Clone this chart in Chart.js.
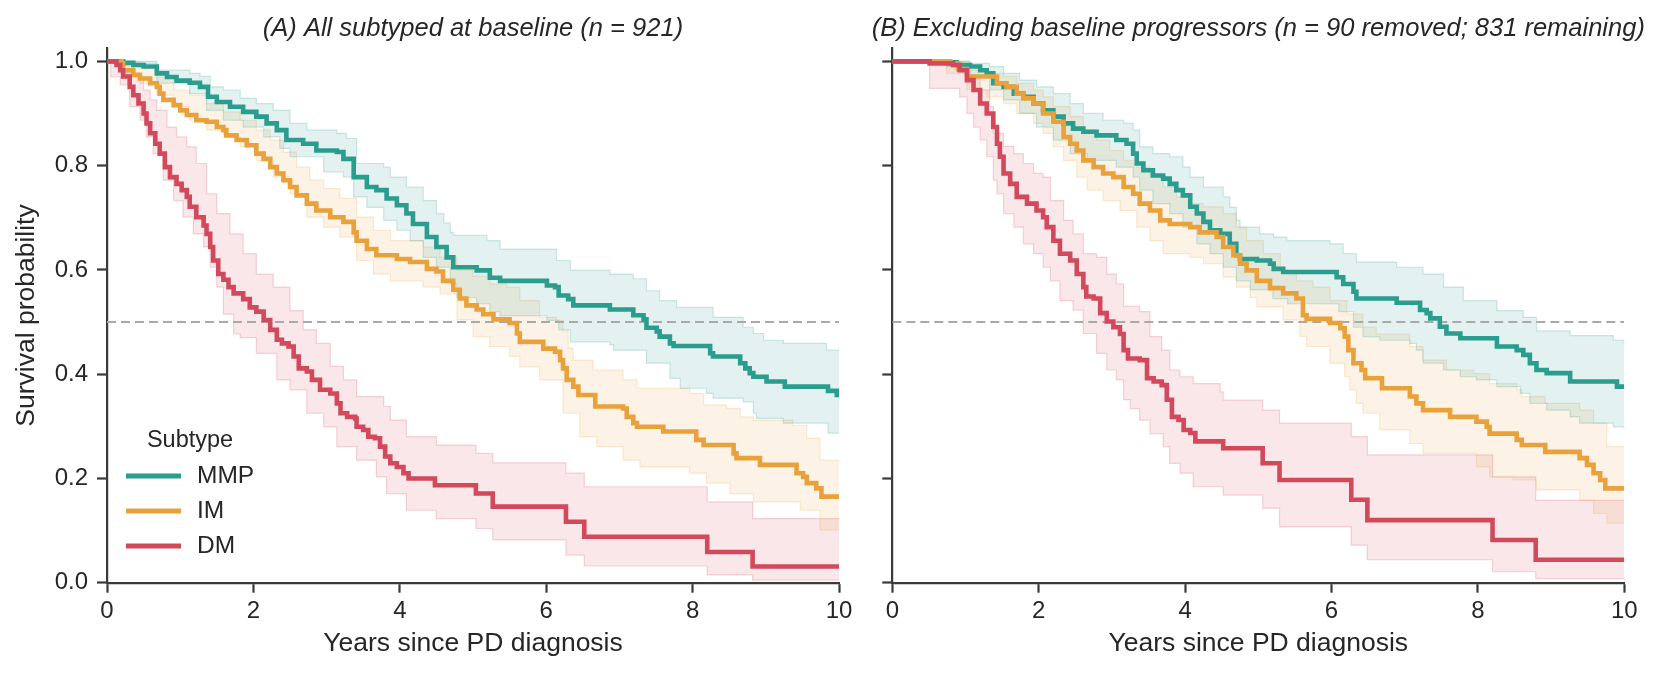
<!DOCTYPE html>
<html>
<head>
<meta charset="utf-8">
<script src="https://cdn.jsdelivr.net/npm/chart.js@4.4.1/dist/chart.umd.min.js"></script>
<style>
  html, body { margin: 0; padding: 0; background: #fff; overflow: hidden; }
  #wrap { position: relative; width: 1661px; height: 675px; }
  canvas { position: absolute; top: 0; }
  #chartA { left: 0; }
  #chartB { left: 850px; }
</style>
</head>
<body>
<div id="wrap">
  <canvas id="chartA" width="860" height="675"></canvas>
  <canvas id="chartB" width="811" height="675"></canvas>
</div>
<script>
// ---- data (years since diagnosis, survival probability) ----
var subtypes = ["MMP", "IM", "DM"];
var colors = { MMP: "42,157,143", IM: "233,162,59", DM: "209,73,91" };
var xTicks = [0, 2, 4, 6, 8, 10];
var yTicks = [0, 0.2, 0.4, 0.6, 0.8, 1.0];
var refY = 0.5;
var titleA = "(A) All subtyped at baseline (n = 921)";
var titleB = "(B) Excluding baseline progressors (n = 90 removed; 831 remaining)";

// panel A
var A_MMP = [[0,1],[0.22,0.997],[0.36,0.993],[0.5,0.99],[0.68,0.977],[0.82,0.97],[0.95,0.963],[1.13,0.959],[1.27,0.951],[1.38,0.932],[1.5,0.922],[1.68,0.913],[1.86,0.903],[2.04,0.894],[2.18,0.881],[2.32,0.868],[2.45,0.849],[2.68,0.842],[2.86,0.829],[3.14,0.826],[3.23,0.813],[3.37,0.778],[3.55,0.759],[3.68,0.753],[3.82,0.737],[3.96,0.724],[4.09,0.708],[4.18,0.688],[4.37,0.663],[4.5,0.644],[4.64,0.624],[4.73,0.605],[5.05,0.599],[5.23,0.585],[5.37,0.579],[6.01,0.570],[6.12,0.567],[6.17,0.551],[6.3,0.544],[6.37,0.532],[6.87,0.524],[7.19,0.513],[7.33,0.505],[7.37,0.489],[7.51,0.482],[7.55,0.472],[7.69,0.459],[7.74,0.454],[8.24,0.440],[8.28,0.434],[8.65,0.421],[8.72,0.411],[8.78,0.402],[8.83,0.395],[9.01,0.386],[9.26,0.376],[9.85,0.368],[9.97,0.36],[10,0.36]];
var A_MMP_HI = [[0,1],[0.22,1.0],[0.68,0.983],[1.13,0.977],[1.27,0.971],[1.41,0.951],[1.59,0.945],[1.82,0.929],[2.04,0.919],[2.27,0.906],[2.5,0.881],[2.73,0.868],[3.14,0.862],[3.27,0.852],[3.41,0.804],[3.78,0.797],[3.87,0.778],[4.09,0.759],[4.32,0.733],[4.5,0.708],[4.6,0.69],[4.69,0.672],[4.73,0.666],[5.19,0.656],[5.37,0.640],[6.14,0.618],[6.33,0.599],[6.87,0.592],[7.19,0.583],[7.37,0.56],[7.55,0.541],[7.78,0.528],[8.28,0.509],[8.69,0.49],[8.83,0.478],[8.97,0.465],[9.24,0.459],[9.83,0.446],[10,0.443]];
var A_MMP_LO = [[0,1],[0.22,0.996],[0.68,0.958],[1.13,0.938],[1.36,0.906],[1.59,0.887],[1.86,0.874],[2.14,0.855],[2.36,0.833],[2.5,0.817],[2.96,0.788],[3.23,0.778],[3.37,0.74],[3.55,0.72],[3.78,0.695],[3.96,0.676],[4.14,0.656],[4.32,0.624],[4.5,0.605],[4.69,0.573],[4.78,0.547],[5.05,0.535],[5.23,0.52],[5.37,0.512],[6.01,0.503],[6.17,0.485],[6.33,0.462],[6.87,0.456],[6.92,0.446],[7.37,0.421],[7.69,0.392],[7.83,0.373],[8.19,0.363],[8.28,0.354],[8.69,0.347],[8.83,0.325],[8.87,0.315],[9.24,0.306],[9.85,0.287],[10,0.287]];

var A_IM = [[0,1],[0.2,0.996],[0.22,0.983],[0.36,0.974],[0.45,0.967],[0.59,0.958],[0.68,0.951],[0.72,0.938],[0.77,0.926],[0.91,0.916],[1.0,0.906],[1.09,0.897],[1.22,0.887],[1.36,0.884],[1.5,0.874],[1.59,0.868],[1.63,0.858],[1.77,0.849],[1.91,0.839],[2.04,0.823],[2.14,0.813],[2.23,0.797],[2.32,0.785],[2.41,0.772],[2.5,0.759],[2.59,0.743],[2.73,0.727],[2.86,0.714],[3.05,0.701],[3.23,0.692],[3.37,0.672],[3.41,0.656],[3.55,0.640],[3.68,0.628],[3.96,0.621],[4.14,0.615],[4.37,0.602],[4.5,0.597],[4.59,0.579],[4.73,0.562],[4.82,0.545],[4.91,0.532],[5.05,0.524],[5.14,0.515],[5.28,0.505],[5.5,0.498],[5.6,0.478],[5.64,0.462],[5.96,0.449],[6.12,0.443],[6.19,0.427],[6.23,0.411],[6.28,0.389],[6.37,0.376],[6.44,0.360],[6.67,0.338],[7.05,0.334],[7.10,0.318],[7.19,0.306],[7.24,0.299],[7.60,0.290],[8.05,0.274],[8.15,0.264],[8.56,0.248],[8.60,0.239],[8.92,0.226],[9.42,0.210],[9.51,0.203],[9.56,0.191],[9.69,0.181],[9.76,0.165],[10,0.165]];
var A_IM_HI = [[0,1],[0.22,0.999],[0.45,0.99],[0.68,0.97],[0.91,0.945],[1.13,0.935],[1.36,0.919],[1.59,0.903],[1.82,0.887],[2.04,0.868],[2.23,0.849],[2.41,0.826],[2.59,0.797],[2.77,0.772],[2.96,0.756],[3.18,0.737],[3.41,0.701],[3.64,0.676],[3.87,0.656],[4.32,0.644],[4.55,0.624],[4.78,0.599],[5.0,0.588],[5.23,0.573],[5.46,0.567],[5.64,0.541],[5.91,0.509],[6.14,0.503],[6.23,0.483],[6.3,0.45],[6.37,0.427],[6.64,0.408],[7.05,0.389],[7.24,0.373],[7.96,0.363],[8.15,0.341],[8.46,0.334],[8.65,0.318],[8.83,0.312],[9.37,0.302],[9.56,0.277],[9.74,0.235],[10,0.235]];
var A_IM_LO = [[0,1],[0.22,0.977],[0.45,0.958],[0.68,0.935],[0.91,0.913],[1.13,0.887],[1.36,0.868],[1.59,0.855],[1.82,0.836],[2.04,0.81],[2.27,0.778],[2.5,0.746],[2.73,0.701],[2.96,0.682],[3.18,0.663],[3.41,0.618],[3.64,0.592],[3.87,0.579],[4.32,0.567],[4.55,0.554],[4.78,0.504],[5.0,0.472],[5.23,0.453],[5.5,0.434],[5.64,0.414],[5.91,0.389],[6.23,0.325],[6.46,0.280],[6.69,0.261],[7.05,0.235],[7.28,0.222],[7.96,0.210],[8.19,0.191],[8.51,0.171],[8.83,0.155],[9.47,0.139],[9.74,0.101],[10,0.101]];

var A_DM = [[0,1],[0.13,0.993],[0.18,0.983],[0.22,0.971],[0.31,0.951],[0.36,0.935],[0.43,0.919],[0.5,0.9],[0.54,0.881],[0.59,0.862],[0.66,0.842],[0.72,0.823],[0.79,0.797],[0.86,0.778],[0.95,0.765],[1.02,0.753],[1.09,0.740],[1.13,0.721],[1.22,0.701],[1.32,0.685],[1.36,0.669],[1.41,0.644],[1.45,0.618],[1.52,0.592],[1.59,0.581],[1.66,0.567],[1.73,0.555],[1.86,0.544],[1.95,0.528],[2.04,0.52],[2.14,0.504],[2.23,0.485],[2.32,0.466],[2.39,0.459],[2.48,0.453],[2.55,0.434],[2.62,0.411],[2.73,0.405],[2.80,0.389],[2.91,0.370],[3.05,0.363],[3.14,0.344],[3.19,0.325],[3.28,0.318],[3.39,0.315],[3.41,0.299],[3.50,0.293],[3.57,0.280],[3.66,0.277],[3.73,0.261],[3.80,0.242],[3.87,0.229],[3.96,0.222],[4.05,0.210],[4.12,0.200],[4.48,0.187],[5.04,0.171],[5.27,0.146],[6.27,0.117],[6.52,0.088],[8.2,0.059],[8.82,0.031],[10,0.031]];
var A_DM_HI = [[0,1],[0.18,0.996],[0.36,0.971],[0.5,0.945],[0.59,0.926],[0.68,0.906],[0.82,0.874],[0.95,0.855],[1.09,0.836],[1.22,0.804],[1.36,0.746],[1.5,0.708],[1.68,0.669],[1.86,0.631],[2.04,0.592],[2.27,0.567],[2.5,0.522],[2.68,0.485],[2.86,0.459],[3.05,0.415],[3.23,0.389],[3.41,0.357],[3.78,0.338],[3.87,0.312],[4.09,0.28],[4.5,0.264],[5.04,0.248],[5.27,0.23],[6.27,0.21],[6.52,0.184],[8.2,0.155],[8.82,0.123],[10,0.123]];
var A_DM_LO = [[0,1],[0.05,0.97],[0.18,0.955],[0.31,0.913],[0.45,0.887],[0.54,0.855],[0.63,0.823],[0.77,0.772],[0.91,0.733],[1.04,0.701],[1.18,0.669],[1.32,0.644],[1.41,0.605],[1.5,0.567],[1.59,0.515],[1.73,0.477],[1.82,0.47],[2.04,0.44],[2.32,0.389],[2.5,0.37],[2.73,0.325],[2.96,0.299],[3.14,0.261],[3.41,0.235],[3.68,0.203],[3.82,0.171],[4.09,0.139],[4.5,0.123],[5.04,0.104],[5.27,0.082],[6.27,0.053],[6.52,0.032],[8.2,0.015],[8.82,0.005],[10,0.005]];

// panel B
var B_MMP = [[0,1],[0.74,0.998],[0.88,0.993],[1.06,0.99],[1.2,0.983],[1.29,0.977],[1.38,0.958],[1.52,0.951],[1.66,0.938],[1.79,0.932],[1.93,0.919],[2.06,0.906],[2.2,0.894],[2.34,0.881],[2.47,0.871],[2.61,0.865],[2.79,0.858],[3.06,0.849],[3.2,0.842],[3.29,0.823],[3.34,0.804],[3.43,0.791],[3.56,0.781],[3.7,0.775],[3.79,0.765],[3.88,0.753],[3.97,0.743],[4.07,0.721],[4.16,0.708],[4.25,0.692],[4.34,0.676],[4.48,0.669],[4.61,0.65],[4.70,0.628],[4.75,0.621],[4.98,0.618],[5.16,0.612],[5.21,0.602],[5.34,0.596],[6.07,0.586],[6.16,0.573],[6.30,0.558],[6.34,0.545],[6.89,0.537],[7.21,0.523],[7.30,0.517],[7.35,0.507],[7.48,0.491],[7.57,0.478],[7.76,0.469],[8.26,0.453],[8.53,0.446],[8.62,0.437],[8.71,0.421],[8.80,0.408],[8.94,0.402],[9.26,0.386],[9.90,0.376],[10,0.376]];
var B_MMP_HI = [[0,1],[1.06,0.996],[1.33,0.99],[1.52,0.977],[1.74,0.964],[1.97,0.951],[2.2,0.938],[2.43,0.919],[2.61,0.9],[2.88,0.887],[3.16,0.881],[3.29,0.868],[3.38,0.836],[3.56,0.823],[3.79,0.817],[3.97,0.797],[4.07,0.778],[4.25,0.759],[4.52,0.74],[4.61,0.72],[4.70,0.695],[4.75,0.682],[5.02,0.669],[5.21,0.663],[5.39,0.656],[5.98,0.65],[6.16,0.631],[6.34,0.615],[6.89,0.605],[7.25,0.592],[7.53,0.567],[7.80,0.541],[8.26,0.522],[8.62,0.509],[8.80,0.483],[9.26,0.474],[9.85,0.465],[10,0.456]];
var B_MMP_LO = [[0,1],[0.74,0.99],[1.06,0.971],[1.33,0.945],[1.52,0.926],[1.74,0.9],[1.97,0.874],[2.2,0.849],[2.43,0.823],[2.66,0.81],[3.06,0.797],[3.29,0.778],[3.38,0.753],[3.56,0.727],[3.79,0.708],[3.97,0.682],[4.16,0.65],[4.34,0.631],[4.52,0.605],[4.70,0.579],[4.89,0.562],[5.2,0.545],[5.4,0.535],[6.1,0.52],[6.3,0.49],[6.43,0.472],[6.66,0.465],[7.07,0.459],[7.16,0.446],[7.25,0.421],[7.53,0.408],[7.76,0.395],[7.98,0.389],[8.26,0.376],[8.58,0.363],[8.71,0.344],[8.94,0.331],[9.26,0.318],[9.39,0.306],[9.85,0.299],[10,0.293]];

var B_IM = [[0,1],[0.79,0.996],[0.9,0.985],[1.02,0.971],[1.43,0.958],[1.56,0.951],[1.70,0.938],[1.79,0.929],[1.93,0.919],[2.06,0.9],[2.20,0.884],[2.34,0.855],[2.43,0.842],[2.52,0.829],[2.61,0.81],[2.75,0.797],[2.88,0.785],[3.02,0.778],[3.16,0.759],[3.29,0.746],[3.38,0.727],[3.52,0.714],[3.66,0.695],[3.79,0.688],[4.07,0.682],[4.20,0.672],[4.43,0.663],[4.52,0.644],[4.66,0.628],[4.75,0.612],[4.84,0.599],[4.98,0.579],[5.16,0.565],[5.34,0.555],[5.52,0.545],[5.61,0.513],[5.66,0.506],[5.98,0.498],[6.12,0.488],[6.18,0.472],[6.23,0.446],[6.30,0.421],[6.41,0.408],[6.46,0.392],[6.69,0.373],[7.07,0.357],[7.16,0.344],[7.25,0.331],[7.62,0.318],[7.98,0.309],[8.12,0.299],[8.16,0.286],[8.53,0.274],[8.60,0.264],[8.92,0.251],[9.39,0.239],[9.49,0.226],[9.58,0.21],[9.67,0.197],[9.74,0.181],[10,0.181]];
var B_IM_HI = [[0,1],[1.06,0.983],[1.29,0.977],[1.52,0.971],[1.70,0.958],[1.93,0.945],[2.06,0.932],[2.20,0.913],[2.43,0.894],[2.61,0.868],[2.79,0.849],[2.97,0.829],[3.16,0.81],[3.34,0.797],[3.52,0.778],[3.70,0.759],[3.88,0.74],[4.07,0.727],[4.25,0.721],[4.52,0.708],[4.70,0.682],[4.84,0.656],[5.07,0.631],[5.30,0.599],[5.52,0.579],[5.75,0.567],[5.98,0.541],[6.21,0.515],[6.43,0.49],[6.61,0.477],[7.07,0.453],[7.25,0.427],[7.57,0.408],[7.94,0.401],[8.16,0.382],[8.53,0.37],[8.60,0.357],[8.92,0.344],[9.39,0.331],[9.58,0.306],[9.76,0.261],[10,0.261]];
var B_IM_LO = [[0,1],[0.74,0.977],[1.02,0.945],[1.29,0.932],[1.52,0.919],[1.70,0.9],[1.93,0.881],[2.06,0.862],[2.20,0.836],[2.34,0.81],[2.52,0.778],[2.66,0.753],[2.88,0.733],[3.11,0.714],[3.34,0.682],[3.52,0.656],[3.70,0.631],[4.07,0.624],[4.25,0.612],[4.52,0.586],[4.70,0.567],[4.89,0.547],[4.98,0.529],[5.34,0.504],[5.57,0.472],[5.66,0.453],[5.98,0.421],[6.18,0.395],[6.25,0.37],[6.34,0.344],[6.43,0.325],[6.66,0.293],[7.07,0.267],[7.25,0.248],[7.98,0.222],[8.16,0.203],[8.48,0.197],[8.80,0.178],[9.39,0.158],[9.58,0.133],[9.76,0.114],[10,0.111]];

var B_DM = [[0,1],[0.51,0.996],[0.83,0.993],[0.92,0.983],[1.02,0.964],[1.11,0.945],[1.20,0.919],[1.29,0.9],[1.38,0.874],[1.43,0.842],[1.47,0.817],[1.52,0.785],[1.61,0.765],[1.70,0.74],[1.84,0.727],[1.97,0.714],[2.06,0.701],[2.11,0.682],[2.20,0.656],[2.29,0.631],[2.43,0.618],[2.52,0.592],[2.61,0.567],[2.65,0.549],[2.75,0.545],[2.84,0.517],[2.93,0.501],[3.02,0.49],[3.11,0.477],[3.16,0.446],[3.22,0.43],[3.38,0.427],[3.48,0.392],[3.57,0.386],[3.68,0.379],[3.75,0.351],[3.82,0.318],[3.91,0.312],[3.98,0.293],[4.07,0.287],[4.14,0.271],[4.52,0.258],[5.06,0.229],[5.29,0.197],[6.27,0.159],[6.49,0.12],[8.2,0.082],[8.79,0.044],[10,0.044]];
var B_DM_HI = [[0,1],[0.92,0.983],[1.06,0.971],[1.20,0.945],[1.33,0.913],[1.38,0.862],[1.52,0.837],[1.66,0.823],[1.79,0.804],[1.93,0.785],[2.06,0.778],[2.16,0.733],[2.34,0.695],[2.47,0.669],[2.61,0.631],[2.79,0.624],[2.93,0.592],[3.06,0.573],[3.16,0.53],[3.38,0.52],[3.52,0.472],[3.68,0.446],[3.79,0.408],[3.93,0.395],[4.11,0.382],[4.48,0.366],[4.52,0.35],[5.06,0.331],[5.29,0.306],[6.27,0.28],[6.49,0.245],[8.2,0.203],[8.79,0.158],[10,0.158]];
var B_DM_LO = [[0,1],[0.51,0.948],[0.92,0.932],[1.02,0.9],[1.11,0.874],[1.2,0.849],[1.29,0.817],[1.38,0.772],[1.43,0.746],[1.52,0.708],[1.66,0.682],[1.79,0.65],[1.93,0.631],[2.06,0.605],[2.16,0.579],[2.29,0.541],[2.47,0.523],[2.61,0.478],[2.79,0.44],[2.93,0.408],[3.06,0.389],[3.16,0.351],[3.25,0.334],[3.38,0.312],[3.52,0.286],[3.70,0.261],[3.79,0.229],[3.93,0.21],[4.11,0.184],[4.52,0.168],[5.06,0.143],[5.29,0.107],[6.27,0.072],[6.49,0.044],[8.2,0.021],[8.79,0.008],[10,0.008]];

var panelA = { title: titleA, MMP: [A_MMP, A_MMP_LO, A_MMP_HI], IM: [A_IM, A_IM_LO, A_IM_HI], DM: [A_DM, A_DM_LO, A_DM_HI] };
var panelB = { title: titleB, MMP: [B_MMP, B_MMP_LO, B_MMP_HI], IM: [B_IM, B_IM_LO, B_IM_HI], DM: [B_DM, B_DM_LO, B_DM_HI] };

// ---- drawing ----
var FONT = "'Liberation Sans', Arial, 'Helvetica Neue', sans-serif";
var TEXT = "#262626";
var AXIS = "#3a3a3a";

function pts(arr) {
    return arr.map(p => ({ x: p[0], y: p[1] }));
}

function buildDatasets(panel) {
    var sets = [];
    // lines first: lower index is drawn on top (DM top)
    ["DM", "IM", "MMP"].forEach(function (k, i) {
        sets.push({
            label: k,
            data: pts(panel[k][0]),
            borderColor: "rgb(" + colors[k] + ")",
            borderWidth: 4.6,
            stepped: true,
            fill: false,
            pointRadius: 0,
            order: i
        });
    });
    sets.push({
        label: "ref",
        data: [{ x: xTicks[0], y: refY }, { x: xTicks[xTicks.length - 1], y: refY }],
        borderColor: "#a9a9a9",
        borderWidth: 1.8,
        borderDash: [9, 5],
        pointRadius: 0,
        fill: false,
        order: 3
    });
    ["MMP", "IM", "DM"].forEach(function (k) {
        var loIndex = sets.length;
        sets.push({
            label: k + " lo",
            data: pts(panel[k][1]),
            borderColor: "rgba(" + colors[k] + ",0.22)",
            borderWidth: 1.2,
            stepped: true,
            fill: false,
            pointRadius: 0,
            order: 10
        });
        sets.push({
            label: k + " hi",
            data: pts(panel[k][2]),
            borderColor: "rgba(" + colors[k] + ",0.22)",
            backgroundColor: "rgba(" + colors[k] + ",0.13)",
            borderWidth: 1.2,
            stepped: true,
            fill: loIndex,
            pointRadius: 0,
            order: 10
        });
    });
    return sets;
}

var titlePlugin = {
    id: "panelTitle",
    afterDraw: function (chart) {
        var ctx = chart.ctx, a = chart.chartArea;
        ctx.save();
        ctx.font = "italic 25.5px " + FONT;
        ctx.fillStyle = TEXT;
        ctx.textAlign = "center";
        ctx.textBaseline = "middle";
        ctx.fillText(chart.options.plugins.panelTitle.text, (a.left + a.right) / 2, 28.6);
        ctx.restore();
    }
};

var legendPlugin = {
    id: "kmLegend",
    afterDraw: function (chart) {
        if (!chart.options.plugins.kmLegend.show) return;
        var ctx = chart.ctx;
        ctx.save();
        ctx.fillStyle = TEXT;
        ctx.textBaseline = "middle";
        ctx.textAlign = "center";
        ctx.font = "23.5px " + FONT;
        ctx.fillText("Subtype", 190, 441);
        ctx.textAlign = "left";
        ctx.font = "24.5px " + FONT;
        subtypes.forEach(function (k, i) {
            var y = 476 + i * 35;
            ctx.strokeStyle = "rgb(" + colors[k] + ")";
            ctx.lineWidth = 5;
            ctx.beginPath();
            ctx.moveTo(126, y);
            ctx.lineTo(181, y);
            ctx.stroke();
            ctx.fillText(k, 197, y);
        });
        ctx.restore();
    }
};

function makeChart(id, panel, first) {
    var ctx = document.getElementById(id).getContext("2d");
    return new Chart(ctx, {
        type: "line",
        data: { datasets: buildDatasets(panel) },
        plugins: [titlePlugin, legendPlugin],
        options: {
            responsive: false,
            animation: false,
            events: [],
            layout: { padding: { top: 48.3, right: first ? 21 : 36.7, left: 0, bottom: 0 } },
            plugins: {
                legend: { display: false },
                tooltip: { enabled: false },
                title: { display: false },
                panelTitle: { text: panel.title },
                kmLegend: { show: first }
            },
            scales: {
                x: {
                    type: "linear",
                    min: 0,
                    max: 10,
                    afterBuildTicks: function (s) { s.ticks = xTicks.map(v => ({ value: v })); },
                    afterFit: function (s) { s.height = 92.3; },
                    border: { display: true, color: AXIS, width: 2.2 },
                    grid: { display: true, drawOnChartArea: false, drawTicks: true, tickLength: 10, tickWidth: 2.2, tickColor: AXIS },
                    ticks: { font: { size: 24, family: FONT }, color: TEXT, padding: 4, maxRotation: 0, callback: v => String(v) },
                    title: { display: true, text: "Years since PD diagnosis", font: { size: 26.5, family: FONT }, color: TEXT, padding: { top: 4, bottom: 15.2 } }
                },
                y: {
                    type: "linear",
                    min: 0,
                    max: 1.025,
                    afterBuildTicks: function (s) { s.ticks = yTicks.map(v => ({ value: v })); },
                    afterFit: function (s) { s.width = first ? 107 : 42.3; },
                    border: { display: true, color: AXIS, width: 2.2 },
                    grid: { display: true, drawOnChartArea: false, drawTicks: true, tickLength: 10, tickWidth: 2.2, tickColor: AXIS },
                    ticks: { font: { size: 24, family: FONT }, color: TEXT, padding: 9, callback: v => first ? v.toFixed(1) : "" },
                    title: { display: first, text: "Survival probability", font: { size: 26.5, family: FONT }, color: TEXT, padding: { top: 10.6, bottom: 0 } }
                }
            }
        }
    });
}

makeChart("chartA", panelA, true);
makeChart("chartB", panelB, false);
</script>
</body>
</html>
